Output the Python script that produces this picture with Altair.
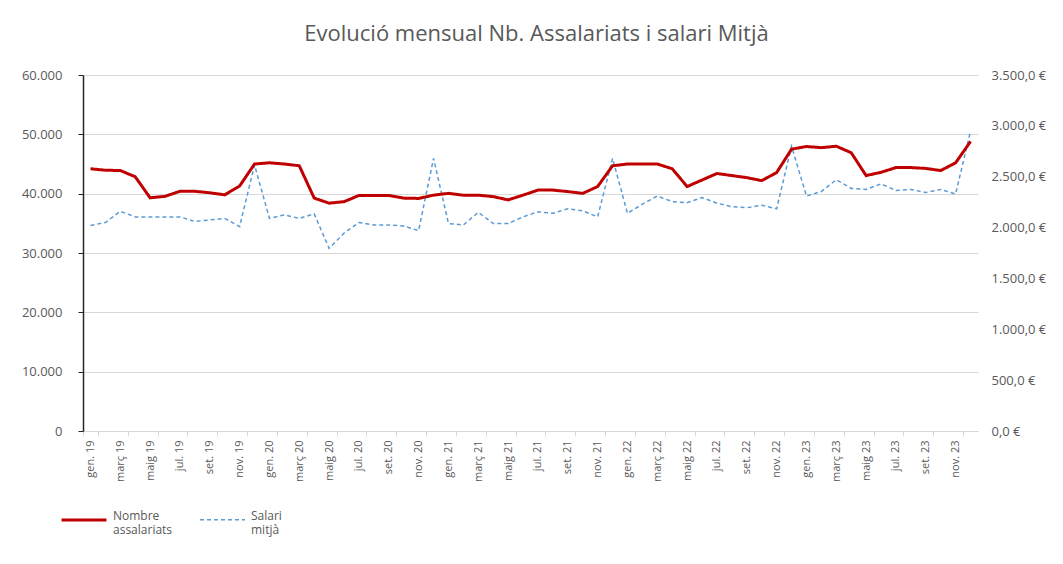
import altair as alt
import pandas as pd

anys = ["19", "20", "21", "22", "23"]
mesos = ["gen.", "febr.", "març", "abr.", "maig", "juny", "jul.", "ag.", "set.", "oct.", "nov.", "des."]
etiquetes = [f"{m} {a}" for a in anys for m in mesos]

assalariats = [
    44200, 43950, 43900, 42850, 39300, 39550, 40400, 40400, 40150, 39800, 41300, 45000,
    45200, 45000, 44700, 39250, 38400, 38650, 39700, 39700, 39700, 39250, 39200, 39750,
    40050, 39750, 39750, 39500, 38950, 39750, 40600, 40600, 40350, 40050, 41200, 44700,
    45000, 45000, 45000, 44200, 41200, 42300, 43400, 43050, 42700, 42200, 43550, 47500,
    47950, 47750, 48000, 46900, 43050, 43600, 44400, 44400, 44250, 43900, 45200, 48800,
]
salari = [
    2020, 2050, 2160, 2105, 2105, 2105, 2105, 2060, 2075, 2090, 2010, 2615,
    2090, 2125, 2090, 2135, 1795, 1945, 2050, 2025, 2025, 2015, 1970, 2680,
    2040, 2025, 2150, 2040, 2040, 2105, 2155, 2140, 2185, 2165, 2105, 2680,
    2140, 2230, 2310, 2255, 2245, 2295, 2240, 2205, 2195, 2220, 2185, 2800,
    2310, 2355, 2470, 2385, 2375, 2430, 2365, 2375, 2345, 2375, 2330, 2950,
]
series = ["Nombre assalariats", "Salari mitjà"]
colors = ["#C00000", "#5B9BD5"]

df = pd.DataFrame({"mes": etiquetes, "assalariats": assalariats, "salari": salari})

FONT = "Open Sans"
GREY = "#595959"
NBSP = "\u00a0"

legend = alt.Legend(
    orient="none", legendX=-23, legendY=421, direction="horizontal", title=None,
    symbolType="stroke", symbolSize=2025, labelFont=FONT, labelFontSize=12,
    labelColor=GREY,
    labelExpr=f"[split(datum.label, ' ')[0], '{NBSP}', split(datum.label, ' ')[1]]",
    columnPadding=24, labelBaseline="alphabetic", labelOffset=5,
)

x = alt.X(
    "mes:O", sort=etiquetes, title=None,
    scale=alt.Scale(type="band", paddingInner=0, paddingOuter=0),
    axis=alt.Axis(
        values=etiquetes[0::2], labelAngle=270, tickBand="extent",
        labelFont=FONT, labelFontSize=11, labelColor=GREY, labelPadding=4,
        domainColor="#d9d9d9", tickColor="#d9d9d9", tickSize=5, grid=False,
    ),
)

color = alt.Color("serie:N", scale=alt.Scale(domain=series, range=colors), legend=legend)
dash = alt.StrokeDash("serie:N", scale=alt.Scale(domain=series, range=[[1, 0], [4, 3]]), legend=legend)
width = alt.StrokeWidth("serie:N", scale=alt.Scale(domain=series, range=[3, 1.5]), legend=legend)

base = alt.Chart(df)

red = base.transform_calculate(serie="'Nombre assalariats'").mark_line().encode(
    x=x,
    y=alt.Y(
        "assalariats:Q", title=None,
        scale=alt.Scale(domain=[0, 60000]),
        axis=alt.Axis(
            values=[0, 10000, 20000, 30000, 40000, 50000, 60000],
            labelExpr="replace(format(datum.value, ',.0f'), ',', '.')",
            labelFont=FONT, labelFontSize=13, labelColor=GREY, labelPadding=16,
            domainColor="#262626", domainWidth=1.5, tickColor="#262626", tickSize=5,
            grid=True, gridColor="#d9d9d9", gridWidth=1,
        ),
    ),
    color=color, strokeDash=dash, strokeWidth=width,
)

blue = base.transform_calculate(serie="'Salari mitjà'").mark_line().encode(
    x=x,
    y=alt.Y(
        "salari:Q", title=None,
        scale=alt.Scale(domain=[0, 3500]),
        axis=alt.Axis(
            orient="right",
            values=[0, 500, 1000, 1500, 2000, 2500, 3000, 3500],
            labelExpr="replace(replace(replace(format(datum.value, ',.1f'), ',', '_'), '.', ','), '_', '.') + ' €'",
            labelFont=FONT, labelFontSize=13, labelColor=GREY, labelPadding=13,
            domain=False, ticks=False, grid=False,
        ),
    ),
    color=color, strokeDash=dash, strokeWidth=width,
)

chart = alt.layer(blue, red).resolve_scale(y="independent").properties(
    width=895, height=356,
    padding={"left": 75, "top": 67, "right": 75, "bottom": 125},
    autosize=alt.AutoSizeParams(type="none"),
    title=alt.Title(
        "Evolució mensual Nb. Assalariats i salari Mitjà",
        font=FONT, fontSize=22, fontWeight="normal", color=GREY,
        baseline="bottom", offset=1, dx=6,
    ),
).configure_view(strokeWidth=0)

chart.save("out.html", embed_options={"renderer": "svg", "actions": False})
